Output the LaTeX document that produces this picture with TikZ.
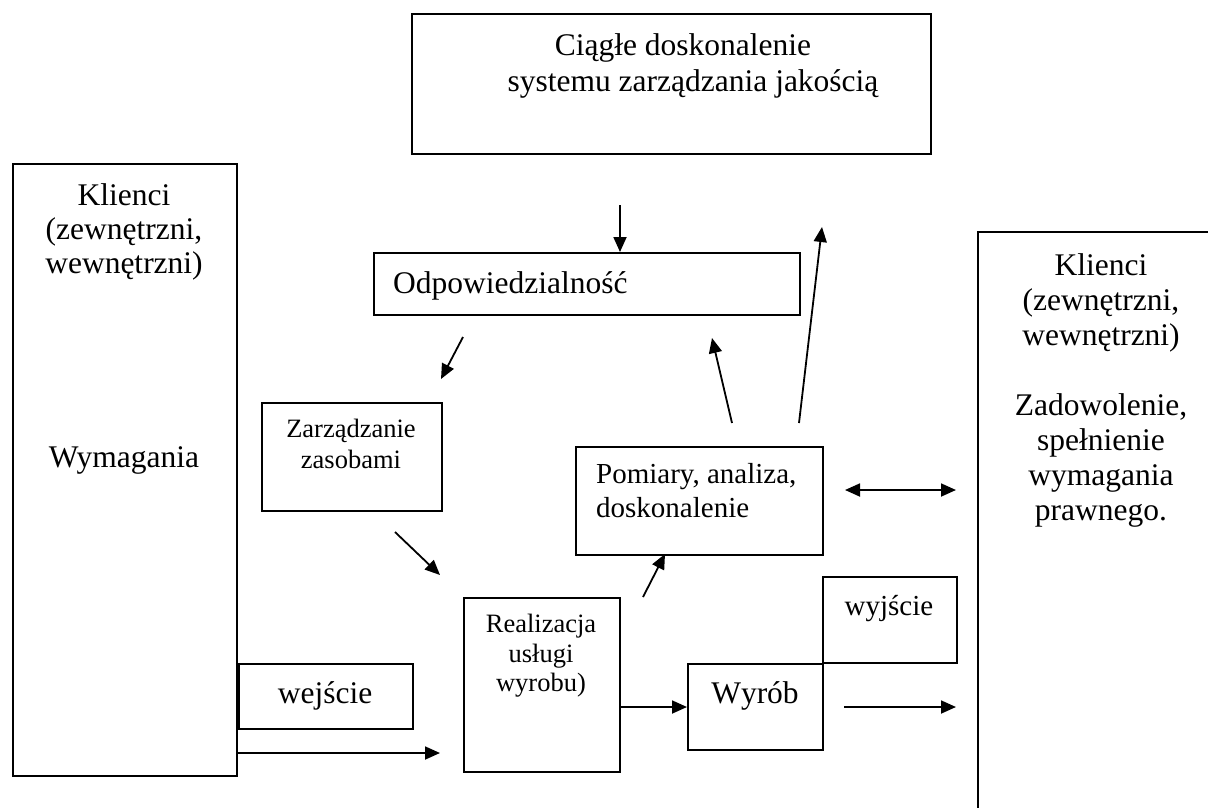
\documentclass[tikz,border=0pt]{standalone}
\usepackage{fontspec}
\setmainfont{Liberation Serif}
\usetikzlibrary{arrows.meta}
\begin{document}
\begin{tikzpicture}[x=1pt,y=-1pt,
  box/.style={draw, line width=1.6pt, inner sep=0pt, anchor=north west},
  big/.style={font=\fontsize{31.5}{35}\selectfont, inner sep=0pt, anchor=base},
  mid/.style={font=\fontsize{29}{33}\selectfont, inner sep=0pt, anchor=base},
  small/.style={font=\fontsize{26.5}{30}\selectfont, inner sep=0pt, anchor=base},
  arr/.style={line width=1.8pt, -{Triangle[length=15pt,width=13pt]}},
  darr/.style={line width=1.8pt, {Triangle[length=15pt,width=13pt]}-{Triangle[length=15pt,width=13pt]}}]
\useasboundingbox (0,0) rectangle (1208,807);
\begin{scope}
\clip (0,0) rectangle (1208,807);
% boxes
\node[box, minimum width=519pt, minimum height=140pt] (top) at (411,13) {};
\node[box, minimum width=224pt, minimum height=612pt] (left) at (12,163) {};
\node[box, minimum width=250pt, minimum height=590pt] (right) at (977,231) {};
\node[box, minimum width=426pt, minimum height=62pt] (odp) at (373,252) {};
\node[box, minimum width=180pt, minimum height=108pt] (zarz) at (261,402) {};
\node[box, minimum width=247pt, minimum height=108pt] (pom) at (575,446) {};
\node[box, minimum width=156pt, minimum height=174pt] (real) at (463,597) {};
\node[box, minimum width=174pt, minimum height=65pt] (wej) at (238,663) {};
\node[box, minimum width=135pt, minimum height=86pt] (wyrob) at (687,663) {};
\node[box, minimum width=134pt, minimum height=86pt] (wyj) at (822,576) {};
\end{scope}
% texts
\node[big] (t1) at (683,55) {Ciągłe doskonalenie};
\node[big] (t2) at (693,91) {systemu zarządzania jakością};
\node[big] (l1) at (124,205) {Klienci};
\node[big] (l2) at (124,239) {(zewnętrzni,};
\node[big] (l3) at (124,273) {wewnętrzni)};
\node[big] (l4) at (124,467) {Wymagania};
\node[big] (r1) at (1101,275) {Klienci};
\node[big] (r2) at (1101,310) {(zewnętrzni,};
\node[big] (r3) at (1101,345) {wewnętrzni)};
\node[big] (r4) at (1101,415) {Zadowolenie,};
\node[big] (r5) at (1101,450) {spełnienie};
\node[big] (r6) at (1101,485) {wymagania};
\node[big] (r7) at (1101,520) {prawnego.};
\node[big, anchor=base west] (o1) at (393,293) {Odpowiedzialność};
\node[small] (z1) at (351,437) {Zarządzanie};
\node[small] (z2) at (351,468) {zasobami};
\node[mid, anchor=base west] (p1) at (596,483) {Pomiary, analiza,};
\node[mid, anchor=base west] (p2) at (596,517) {doskonalenie};
\node[small] (re1) at (541,632) {Realizacja};
\node[small] (re2) at (541,662) {usługi};
\node[small] (re3) at (541,691) {wyrobu)};
\node[big] (w1) at (325,703) {wejście};
\node[big] (w2) at (755,703) {\addfontfeatures{Kerning=Off}Wyrób};
\node[mid] (w3) at (889,615) {wyjście};
% free arrow ends
\coordinate (a1s) at (620,205);
\coordinate (a2s) at (799,423);
\coordinate (a2e) at (822,227);
\coordinate (a3s) at (732,423);
\coordinate (a3e) at (712,338);
\coordinate (a4s) at (463,337);
\coordinate (a4e) at (441,379);
\coordinate (a5s) at (395,532);
\coordinate (a5e) at (440,575);
\coordinate (a6s) at (643,597);
\coordinate (a6e) at (665,554);
\coordinate (a7s) at (845,490);
\coordinate (a7e) at (956,490);
\coordinate (a8e) at (440,753);
\coordinate (a10s) at (844,707);
\coordinate (a10e) at (956,707);
% arrows
\draw[arr] (a1s) -- (a1s |- odp.north);
\draw[arr] (a2s) -- (a2e);
\draw[arr] (a3s) -- (a3e);
\draw[arr] (a4s) -- (a4e);
\draw[arr] (a5s) -- (a5e);
\draw[arr] (a6s) -- (a6e);
\draw[darr] (a7s) -- (a7e);
\draw[arr] (left.east |- a8e) -- (a8e);
\draw[arr] (real.east |- 0,707) -- (wyrob.west |- 0,707);
\draw[arr] (a10s) -- (a10e);
\end{tikzpicture}
\end{document}
